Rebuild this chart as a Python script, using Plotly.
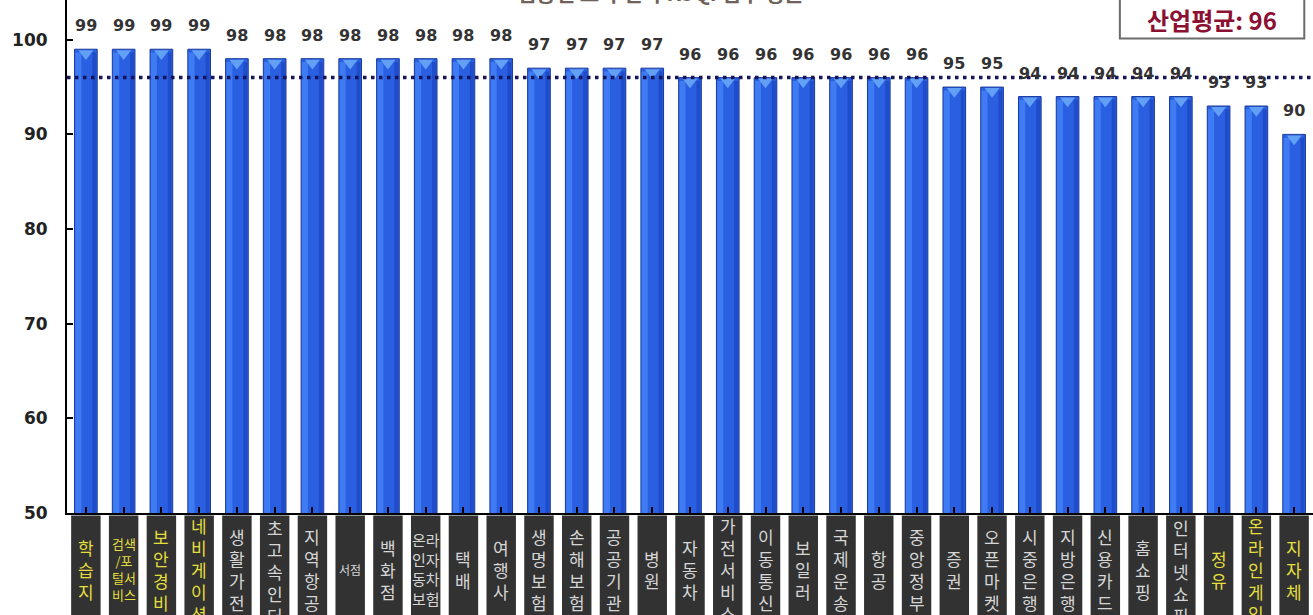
import plotly.graph_objects as go

# Industry categories (label text as it is stacked in each column)
categories = [
    "학습지", "검색/포털서비스", "보안경비", "네비게이션", "생활가전", "초고속인터넷",
    "지역항공", "서점", "백화점", "온라인자동차보험", "택배", "여행사", "생명보험",
    "손해보험", "공공기관", "병원", "자동차", "가전서비스", "이동통신", "보일러",
    "국제운송", "항공", "중앙정부", "증권", "오픈마켓", "시중은행", "지방은행",
    "신용카드", "홈쇼핑", "인터넷쇼핑몰", "정유", "온라인게임", "지자체",
]
scores = [
    99, 99, 99, 99, 98, 98, 98, 98, 98, 98, 98, 98, 97, 97, 97, 97,
    96, 96, 96, 96, 96, 96, 96, 95, 95, 94, 94, 94, 94, 94, 93, 93, 90,
]
highlighted = ["학습지", "검색/포털서비스", "보안경비", "네비게이션", "정유", "온라인게임", "지자체"]
industry_avg = 96
y_ticks = [50, 60, 70, 80, 90, 100]
title_text = "업종별 조사 결과 KSQI 점수 평균"
avg_text = "산업평균: 96"

# Label layouts that are not one character per line
label_lines = {
    "검색/포털서비스": (["검색", "/포", "털서", "비스"], 13),
    "온라인자동차보험": (["온라", "인자", "동차", "보험"], 15),
    "서점": (["서점"], 12),
}

x = list(range(len(categories)))
fig = go.Figure()

# main bars
fig.add_trace(go.Bar(
    x=x, y=scores, base=0, width=0.6,
    marker=dict(color="#2a5fe2", line=dict(color="#1a3a9c", width=1)),
    hoverinfo="skip", showlegend=False,
))
# light left edge highlight of each bar
fig.add_trace(go.Bar(
    x=x, y=[s - 0.35 for s in scores], width=0.16, offset=-0.28,
    marker=dict(color="#3f7bf3", line=dict(width=0)),
    hoverinfo="skip", showlegend=False,
))
# darker right edge shading
fig.add_trace(go.Bar(
    x=x, y=[s - 0.35 for s in scores], width=0.1, offset=0.17,
    marker=dict(color="#1f4cc8", line=dict(width=0)),
    hoverinfo="skip", showlegend=False,
))
# bevelled cap on top of each bar
fig.add_trace(go.Scatter(
    x=x, y=[s - 0.45 for s in scores], mode="markers",
    marker=dict(symbol="triangle-down", size=13, color="#62a0f6",
                line=dict(width=0)),
    hoverinfo="skip", showlegend=False,
))

annotations = []
# value labels
for i, s in enumerate(scores):
    annotations.append(dict(
        x=i, y=s, xref="x", yref="y", text=str(s), showarrow=False,
        yanchor="bottom", yshift=12,
        font=dict(family="DejaVu Sans", size=16, color="#333333", weight="bold"),
    ))

shapes = []
# dark label boxes under the axis
for i, c in enumerate(categories):
    shapes.append(dict(
        type="rect", xref="x", yref="paper", x0=i - 0.39, x1=i + 0.39,
        y0=-0.005, y1=-0.25, fillcolor="#323232", line=dict(width=0), layer="above",
    ))
    lines, size = label_lines.get(c, (list(c), 17))
    color = "#e4df3c" if c in highlighted else "#d6d6d6"
    n = len(lines)
    if n >= 6:
        anchor, shift = "top", 0
    else:
        anchor, shift = "middle", -56
    annotations.append(dict(
        x=i, y=0, xref="x", yref="paper", text="<br>".join(lines), showarrow=False,
        yanchor=anchor, yshift=shift, align="center",
        font=dict(family="Noto Sans CJK KR", size=size, color=color),
    ))

# industry average line
shapes.append(dict(
    type="line", xref="paper", yref="y", x0=0, x1=1, y0=industry_avg, y1=industry_avg,
    line=dict(color="#14145a", width=3.5, dash="3.5px,4.5px"), layer="above",
))
# average box (top right)
shapes.append(dict(
    type="rect", xref="paper", yref="paper", x0=0.845, x1=0.993, y0=0.925, y1=1.05,
    fillcolor="white", line=dict(color="#6b6b6b", width=2),
))
annotations.append(dict(
    x=0.919, y=0.962, xref="paper", yref="paper", text=avg_text, showarrow=False,
    xanchor="center", yanchor="middle",
    font=dict(family="Noto Sans CJK KR", size=24, color="#8c1032", weight="bold"),
))
# chart title (runs off the top edge)
annotations.append(dict(
    x=0.476, y=1, xref="paper", yref="paper", text=title_text, showarrow=False,
    xanchor="center", yanchor="bottom", yshift=-9,
    font=dict(family="Noto Sans CJK KR", size=21, color="#6e625a", weight="bold"),
))

fig.update_layout(
    width=1313, height=615,
    margin=dict(l=67, r=0, t=0, b=102),
    paper_bgcolor="white", plot_bgcolor="white",
    barmode="overlay", bargap=0.3,
    shapes=shapes, annotations=annotations,
    xaxis=dict(
        range=[-0.5, len(categories) - 0.5], tickmode="array", tickvals=x,
        showticklabels=False, tickson="boundaries", ticks="inside", ticklen=6,
        tickwidth=2, tickcolor="black", showline=True, linecolor="black",
        linewidth=2, showgrid=False, zeroline=False, fixedrange=True,
    ),
    yaxis=dict(
        range=[50, 104.2], tickvals=y_ticks, ticks="inside", ticklen=6, tickwidth=2,
        tickcolor="black", showline=True, linecolor="black", linewidth=2,
        showgrid=False, zeroline=False, ticklabelstandoff=14,
        tickfont=dict(family="DejaVu Sans", size=17, color="#222222", weight="bold"),
    ),
)

fig.write_html("out.html", config={"displayModeBar": False})
